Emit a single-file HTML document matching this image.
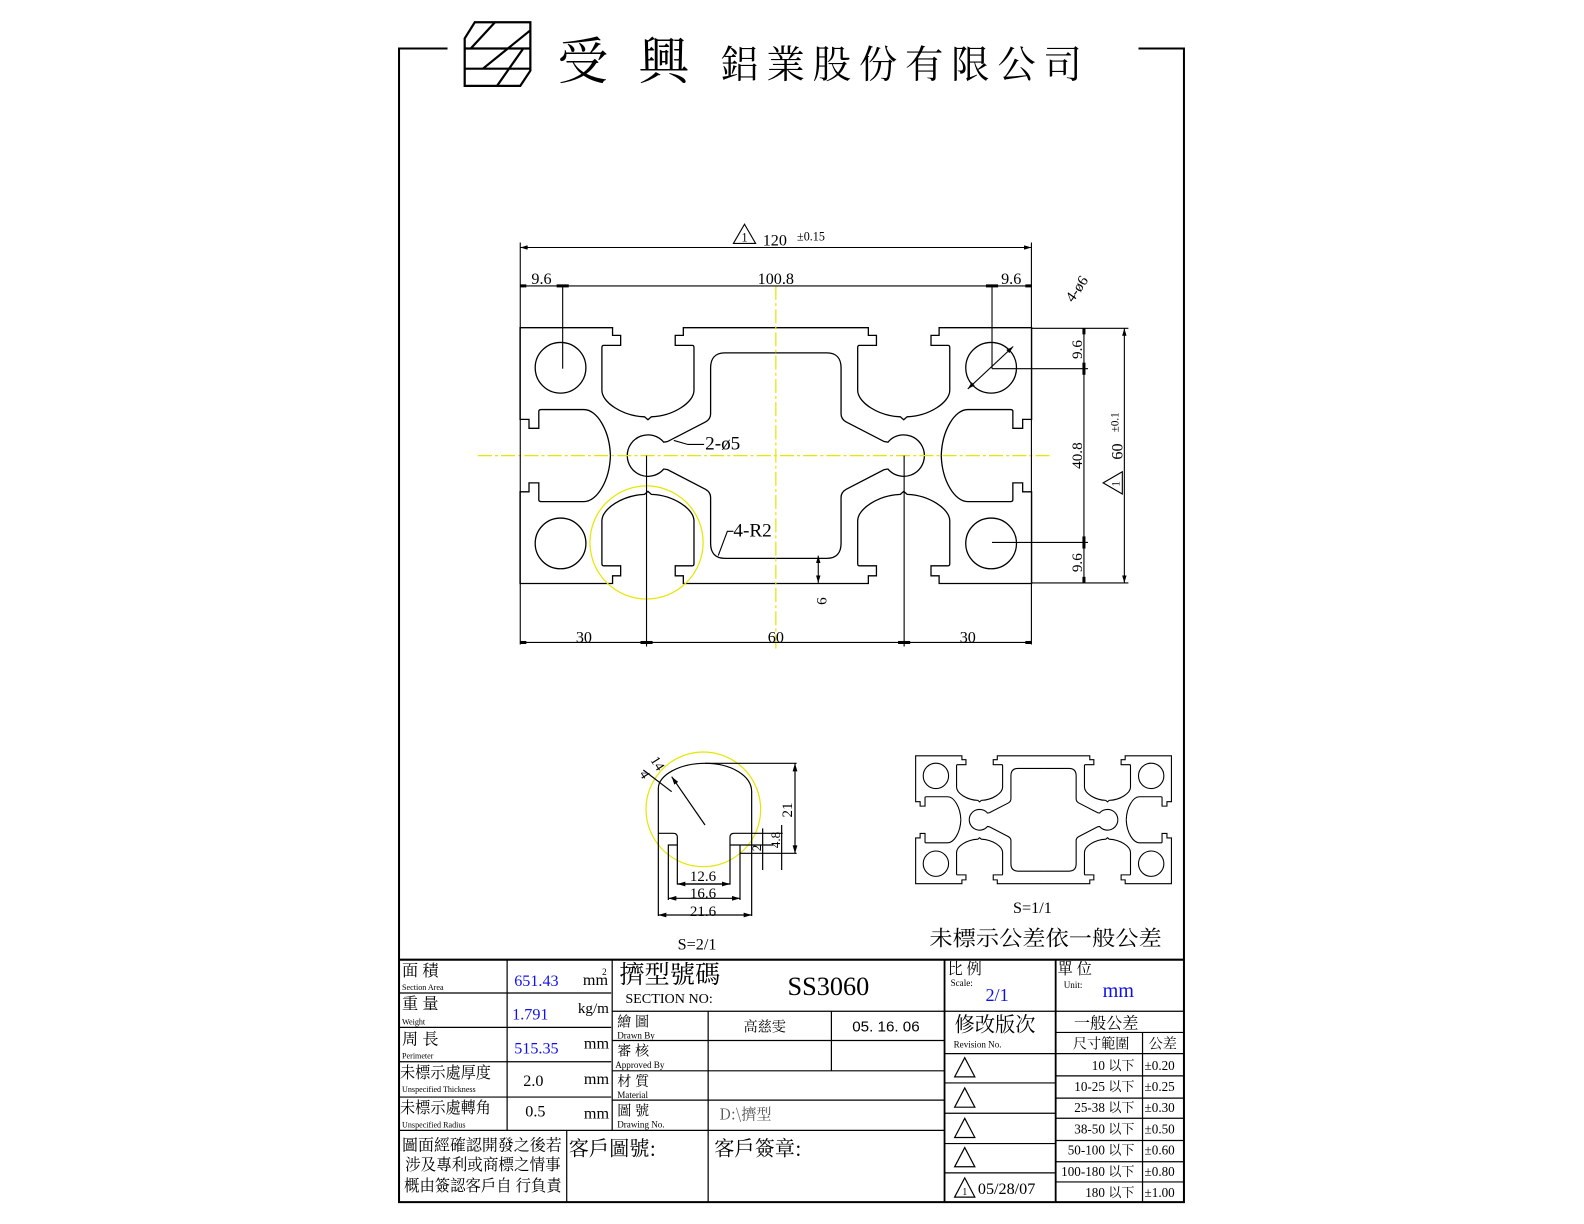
<!DOCTYPE html>
<html><head><meta charset="utf-8"><style>
html,body{margin:0;padding:0;background:#fff;}
svg{display:block}
text{font-family:"Liberation Serif","Noto Serif CJK SC","Noto Sans CJK TC",serif;fill:#000}
.cjk{font-family:"Noto Serif CJK SC","Noto Sans CJK TC",serif}
.s{font-family:"Liberation Sans","Noto Sans CJK TC",sans-serif}
.b{fill:#1010ee}
</style></head><body>
<svg width="1584" height="1224" viewBox="0 0 1584 1224" xmlns="http://www.w3.org/2000/svg">
<defs>
<g id="q" fill="none" stroke="#000">
<path vector-effect="non-scaling-stroke" d="M0,-30 L-21.7,-30 L-21.7,-28.2 L-23.6,-28.2 L-23.6,-25.85 L-19.6,-25.85 Q-19.2,-25.85 -19.2,-25.3 L-19.2,-15.3 C-19.2,-12.5 -24,-9.3 -29.2,-9.1 L-30,-8.4 L-30.8,-9.1 C-36,-9.3 -40.8,-12.5 -40.8,-15.3 L-40.8,-25.3 Q-40.8,-25.85 -40.4,-25.85 L-36.4,-25.85 L-36.4,-28.2 L-38.3,-28.2 L-38.3,-30 L-60,-30 L-60,-8.5 L-57.9,-8.5 L-57.9,-6.4 L-55.6,-6.4 L-55.6,-10.4 Q-55.6,-10.8 -55,-10.8 L-45,-10.8 C-42,-10.8 -39,-6 -38.8,0"/>
<path vector-effect="non-scaling-stroke" d="M0,-24.1 L-12,-24.1 C-14.2,-24.1 -15.3,-22.8 -15.3,-20.6 L-15.3,-9.8 C-15.3,-8.8 -15.8,-8.3 -16.5,-7.9 L-25.4,-3.3 L-26.3,-3.15 A4.85,4.85 0 0 0 -34.85,0"/>
<circle vector-effect="non-scaling-stroke" cx="-50.5" cy="-20.6" r="5.95"/>
</g>
<g id="prof">
<use href="#q"/><use href="#q" transform="scale(-1,1)"/><use href="#q" transform="scale(1,-1)"/><use href="#q" transform="scale(-1,-1)"/>
</g>
<marker id="ar" viewBox="0 0 10 6" refX="10" refY="3" markerWidth="8" markerHeight="4" orient="auto-start-reverse"><path d="M0,0 L10,3 L0,6 Z" fill="#000"/></marker>
</defs>

<g transform="scale(1.0102)">
<g fill="none" stroke="#000" stroke-width="2">
<path d="M443,48 L395,48 L395,1190 L1172,1190 L1172,48 L1127,48"/>
</g>
<g fill="none" stroke="#000" stroke-width="2.2">
<path d="M470,22 L525,22 L525,70 L515,85 L460,85 L460,38 Z"/>
<path d="M460,48 L525,48 M460,68 L525,68 M466,48 L490,22 M478,68 L525,30 M492,85 L518,48"/>
</g>
<text x="552" y="78" font-size="50" class="cjk">受</text>
<text x="632" y="78" font-size="50" class="cjk">興</text>
<text x="713" y="77" font-size="38" class="cjk" textLength="358" lengthAdjust="spacing">鋁業股份有限公司</text>

<g transform="translate(768,451) scale(4.22)" stroke-width="1.3"><use href="#prof"/></g>

<g stroke="#e6e600" stroke-width="1.2" stroke-dasharray="14 3 3 3" fill="none">
<line x1="473" y1="451" x2="1042" y2="451"/>
<line x1="768" y1="283" x2="768" y2="642"/>
<circle cx="640" cy="537" r="56" stroke-dasharray="none"/>
</g>

<g stroke="#000" stroke-width="1.1" fill="none">
<line x1="515" y1="240" x2="515" y2="638"/>
<line x1="1021" y1="240" x2="1021" y2="638"/>
<line x1="515" y1="245" x2="1021" y2="245" marker-start="url(#ar)" marker-end="url(#ar)"/>
<line x1="515" y1="283" x2="1021" y2="283"/>
<line x1="557" y1="283" x2="557" y2="365"/>
<line x1="982" y1="283" x2="982" y2="365"/>
<line x1="958" y1="385" x2="1003" y2="343" marker-start="url(#ar)" marker-end="url(#ar)"/>
<line x1="982" y1="365" x2="1077" y2="365"/>
<line x1="982" y1="537" x2="1077" y2="537"/>
<line x1="1021" y1="325" x2="1117" y2="325"/>
<line x1="1021" y1="577" x2="1117" y2="577"/>
<line x1="1073" y1="325" x2="1073" y2="577"/>
<line x1="1113" y1="325" x2="1113" y2="577" marker-start="url(#ar)" marker-end="url(#ar)"/>
<line x1="640" y1="451" x2="640" y2="640"/>
<line x1="895" y1="451" x2="895" y2="640"/>
<line x1="515" y1="636" x2="1021" y2="636"/>
<line x1="810" y1="550" x2="810" y2="577" marker-start="url(#ar)" marker-end="url(#ar)"/>
<path d="M667,436 L681,440 L697,440"/>
<path d="M711,550 L720,526 L726,526"/>
<path d="M726,241 L737,222 L748,241 Z"/>
<path d="M1092,478 L1111,467 L1111,489 Z"/>
</g>
<g stroke="#000" stroke-width="3">
<line x1="515" y1="283" x2="521" y2="283"/><line x1="551" y1="283" x2="563" y2="283"/>
<line x1="976" y1="283" x2="988" y2="283"/><line x1="1015" y1="283" x2="1021" y2="283"/>
<line x1="1073" y1="325" x2="1073" y2="331"/><line x1="1073" y1="359" x2="1073" y2="371"/>
<line x1="1073" y1="531" x2="1073" y2="543"/><line x1="1073" y1="571" x2="1073" y2="577"/>
<line x1="515" y1="636" x2="521" y2="636"/><line x1="634" y1="636" x2="646" y2="636"/>
<line x1="889" y1="636" x2="901" y2="636"/><line x1="1015" y1="636" x2="1021" y2="636"/>
</g>
<text x="737" y="239" font-size="12" text-anchor="middle">1</text>
<text x="755" y="243" font-size="16">120</text>
<text x="789" y="238" font-size="12">±0.15</text>
<text x="536" y="281" font-size="16" text-anchor="middle">9.6</text>
<text x="768" y="281" font-size="16" text-anchor="middle">100.8</text>
<text x="1001" y="281" font-size="16" text-anchor="middle">9.6</text>
<text transform="translate(1062,300) rotate(-55)" font-size="15">4-ø6</text>
<text transform="translate(1071,346) rotate(-90)" font-size="15" text-anchor="middle">9.6</text>
<text transform="translate(1071,451) rotate(-90)" font-size="15" text-anchor="middle">40.8</text>
<text transform="translate(1071,557) rotate(-90)" font-size="15" text-anchor="middle">9.6</text>
<text transform="translate(1111,447) rotate(-90)" font-size="16" text-anchor="middle">60</text>
<text transform="translate(1107,418) rotate(-90)" font-size="11" text-anchor="middle">±0.1</text>
<text transform="translate(1108,479) rotate(-90)" font-size="11" text-anchor="middle">1</text>
<text x="698" y="445" font-size="19">2-ø5</text>
<text x="726" y="531" font-size="19">4-R2</text>
<text transform="translate(818,595) rotate(-90)" font-size="15" text-anchor="middle">6</text>
<text x="578" y="636" font-size="16" text-anchor="middle">30</text>
<text x="768" y="636" font-size="16" text-anchor="middle">60</text>
<text x="958" y="636" font-size="16" text-anchor="middle">30</text>

<g transform="translate(1033,811.5) scale(2.11)" stroke-width="1.1"><use href="#prof"/></g>
<text x="1022" y="904" font-size="16" text-anchor="middle">S=1/1</text>
<text x="920" y="936" font-size="21" class="cjk" textLength="230" lengthAdjust="spacingAndGlyphs">未標示公差依一般公差</text>
<text x="690" y="940" font-size="16" text-anchor="middle">S=2/1</text>

<g stroke="#000" stroke-width="1.2" fill="none">
<line x1="395" y1="950" x2="1172" y2="950" stroke-width="2.2"/>
<line x1="395" y1="983" x2="605" y2="983"/>
<line x1="395" y1="1017" x2="605" y2="1017"/>
<line x1="395" y1="1051" x2="605" y2="1051"/>
<line x1="395" y1="1086" x2="605" y2="1086"/>
<line x1="395" y1="1119" x2="935" y2="1119"/>
<line x1="502" y1="950" x2="502" y2="1119"/>
<line x1="561" y1="1119" x2="561" y2="1190"/>
<line x1="606" y1="950" x2="606" y2="1119"/>
<line x1="606" y1="1001" x2="935" y2="1001"/>
<line x1="606" y1="1030" x2="935" y2="1030"/>
<line x1="606" y1="1060" x2="935" y2="1060"/>
<line x1="606" y1="1089" x2="935" y2="1089"/>
<line x1="701" y1="1001" x2="701" y2="1190"/>
<line x1="823" y1="1001" x2="823" y2="1060"/>
<line x1="935" y1="950" x2="935" y2="1190" stroke-width="1.8"/>
<line x1="935" y1="1001" x2="1045" y2="1001"/>
<line x1="935" y1="1043" x2="1045" y2="1043"/>
<line x1="935" y1="1072" x2="1045" y2="1072"/>
<line x1="935" y1="1102" x2="1045" y2="1102"/>
<line x1="935" y1="1132" x2="1045" y2="1132"/>
<line x1="935" y1="1161" x2="1045" y2="1161"/>
<line x1="1045" y1="950" x2="1045" y2="1190" stroke-width="1.8"/>
<line x1="1045" y1="1001" x2="1172" y2="1001"/>
<line x1="1045" y1="1022" x2="1172" y2="1022"/>
<line x1="1045" y1="1043" x2="1172" y2="1043"/>
<line x1="1045" y1="1065" x2="1172" y2="1065"/>
<line x1="1045" y1="1087" x2="1172" y2="1087"/>
<line x1="1045" y1="1107" x2="1172" y2="1107"/>
<line x1="1045" y1="1129" x2="1172" y2="1129"/>
<line x1="1045" y1="1150" x2="1172" y2="1150"/>
<line x1="1045" y1="1170" x2="1172" y2="1170"/>
<line x1="1131" y1="1022" x2="1131" y2="1190"/>
<path d="M945,1066 L955,1047 L965,1066 Z"/>
<path d="M945,1096 L955,1077 L965,1096 Z"/>
<path d="M945,1126 L955,1107 L965,1126 Z"/>
<path d="M945,1155 L955,1136 L965,1155 Z"/>
<path d="M945,1185 L955,1166 L965,1185 Z"/>
</g>
<text x="955" y="1183" font-size="10" text-anchor="middle">1</text>
<text x="968" y="1182" font-size="16">05/28/07</text>

<g font-size="16">
<text x="398" y="966" class="cjk">面 積</text>
<text x="398" y="980" font-size="8">Section Area</text>
<text x="509" y="976" class="b" font-size="16">651.43</text>
<text x="577" y="975">mm</text><text x="596" y="965" font-size="9">2</text>
<text x="398" y="999" class="cjk">重 量</text>
<text x="398" y="1014" font-size="8">Weight</text>
<text x="507" y="1009" class="b">1.791</text>
<text x="572" y="1003" font-size="15">kg/m</text>
<text x="398" y="1034" class="cjk">周 長</text>
<text x="398" y="1048" font-size="8">Perimeter</text>
<text x="509" y="1043" class="b">515.35</text>
<text x="578" y="1038">mm</text>
<text x="396" y="1067" class="cjk" font-size="16" textLength="90" lengthAdjust="spacingAndGlyphs">未標示處厚度</text>
<text x="398" y="1081" font-size="8">Unspecified Thickness</text>
<text x="518" y="1075">2.0</text>
<text x="578" y="1073">mm</text>
<text x="396" y="1102" class="cjk" font-size="16" textLength="90" lengthAdjust="spacingAndGlyphs">未標示處轉角</text>
<text x="398" y="1116" font-size="8">Unspecified Radius</text>
<text x="520" y="1105">0.5</text>
<text x="578" y="1107">mm</text>
<text x="398" y="1139" class="cjk" textLength="158" lengthAdjust="spacingAndGlyphs">圖面經確認開發之後若</text>
<text x="401" y="1158" class="cjk" textLength="154" lengthAdjust="spacingAndGlyphs">涉及專利或商標之情事</text>
<text x="400" y="1179" class="cjk" textLength="156" lengthAdjust="spacingAndGlyphs">概由簽認客戶自 行負責</text>
<text x="563" y="1144" class="cjk" font-size="20">客戶圖號:</text>
<text x="707" y="1144" class="cjk" font-size="20">客戶簽章:</text>
<text x="613" y="973" class="cjk" font-size="25">擠型號碼</text>
<text x="619" y="993" font-size="14">SECTION NO:</text>
<text x="820" y="985" font-size="26" text-anchor="middle">SS3060</text>
<text x="611" y="1016" class="cjk" font-size="14">繪 圖</text>
<text x="611" y="1028" font-size="9">Drawn By</text>
<text x="757" y="1021" class="cjk" font-size="14" text-anchor="middle">高慈雯</text>
<text x="877" y="1021" font-size="15" text-anchor="middle" class="s">05. 16. 06</text>
<text x="611" y="1045" class="cjk" font-size="14">審 核</text>
<text x="609" y="1057" font-size="9">Approved By</text>
<text x="611" y="1075" class="cjk" font-size="14">材 質</text>
<text x="611" y="1087" font-size="9">Material</text>
<text x="611" y="1104" class="cjk" font-size="14">圖 號</text>
<text x="611" y="1116" font-size="9">Drawing No.</text>
<text x="712" y="1108" font-size="15" style="fill:#555" class="cjk">D:\擠型</text>
<text x="938" y="964" class="cjk" font-size="15">比 例</text>
<text x="941" y="976" font-size="9">Scale:</text>
<text x="987" y="991" class="b" font-size="18" text-anchor="middle">2/1</text>
<text x="1047" y="964" class="cjk" font-size="15">單 位</text>
<text x="1053" y="978" font-size="9">Unit:</text>
<text x="1107" y="987" class="b" font-size="20" text-anchor="middle">mm</text>
<text x="985" y="1021" class="cjk" font-size="20" text-anchor="middle">修改版次</text>
<text x="944" y="1037" font-size="9">Revision No.</text>
<text x="1095" y="1018" class="cjk" font-size="16" text-anchor="middle">一般公差</text>
<text x="1090" y="1038" class="cjk" font-size="14" text-anchor="middle">尺寸範圍</text>
<text x="1151" y="1038" class="cjk" font-size="14" text-anchor="middle">公差</text>
</g>
<g font-size="13">
<text x="1123" y="1059" text-anchor="end">10 <tspan class="cjk">以下</tspan></text>
<text x="1123" y="1080" text-anchor="end">10-25 <tspan class="cjk">以下</tspan></text>
<text x="1123" y="1101" text-anchor="end">25-38 <tspan class="cjk">以下</tspan></text>
<text x="1123" y="1122" text-anchor="end">38-50 <tspan class="cjk">以下</tspan></text>
<text x="1123" y="1143" text-anchor="end">50-100 <tspan class="cjk">以下</tspan></text>
<text x="1123" y="1164" text-anchor="end">100-180 <tspan class="cjk">以下</tspan></text>
<text x="1123" y="1185" text-anchor="end">180 <tspan class="cjk">以下</tspan></text>
<text x="1133" y="1059">±0.20</text>
<text x="1133" y="1080">±0.25</text>
<text x="1133" y="1101">±0.30</text>
<text x="1133" y="1122">±0.50</text>
<text x="1133" y="1143">±0.60</text>
<text x="1133" y="1164">±0.80</text>
<text x="1133" y="1185">±1.00</text>
</g>
</g>

<g transform="translate(600,730) scale(0.33333)" fill="none">
<circle cx="310" cy="238" r="172" stroke="#e6e600" stroke-width="1.2" vector-effect="non-scaling-stroke"/>
<g stroke="#000" stroke-width="1.2">
<path vector-effect="non-scaling-stroke" d="M175,558 L175,175 C175,135 240,100 315,100 C395,100 455,138 455,185 L455,558"/>
<path vector-effect="non-scaling-stroke" d="M175,310 L220,310 Q232,310 232,322 L232,462 L390,462 L390,322 Q390,310 402,310 L548,310"/>
<path vector-effect="non-scaling-stroke" d="M205,510 L205,345 L232,345 M390,345 L520,345 M420,345 L420,510 M420,370 L590,370 M315,100 L590,100"/>
<line vector-effect="non-scaling-stroke" x1="585" y1="100" x2="585" y2="370" marker-start="url(#ar)" marker-end="url(#ar)"/>
<path vector-effect="non-scaling-stroke" d="M545,285 L545,420 M488,295 L488,420"/>
<line vector-effect="non-scaling-stroke" x1="232" y1="462" x2="390" y2="462" marker-start="url(#ar)" marker-end="url(#ar)"/>
<line vector-effect="non-scaling-stroke" x1="205" y1="505" x2="420" y2="505" marker-start="url(#ar)" marker-end="url(#ar)"/>
<line vector-effect="non-scaling-stroke" x1="175" y1="555" x2="455" y2="555" marker-start="url(#ar)" marker-end="url(#ar)"/>
<line vector-effect="non-scaling-stroke" x1="315" y1="285" x2="215" y2="140" marker-end="url(#ar)"/>
<line vector-effect="non-scaling-stroke" x1="130" y1="120" x2="215" y2="185"/>
</g>
</g>
<text x="703" y="881" font-size="15" text-anchor="middle">12.6</text>
<text x="703" y="898" font-size="15" text-anchor="middle">16.6</text>
<text x="703" y="916" font-size="15" text-anchor="middle">21.6</text>
<text transform="translate(792,810) rotate(-90)" font-size="15" text-anchor="middle">21</text>
<text transform="translate(780,840) rotate(-90)" font-size="13" text-anchor="middle">4.8</text>
<text transform="translate(761,848) rotate(-90)" font-size="13" text-anchor="middle">2</text>
<text transform="translate(650,760) rotate(57)" font-size="14">14</text>
<text transform="translate(639,774) rotate(57)" font-size="14">4</text>
</svg>
</body></html>
